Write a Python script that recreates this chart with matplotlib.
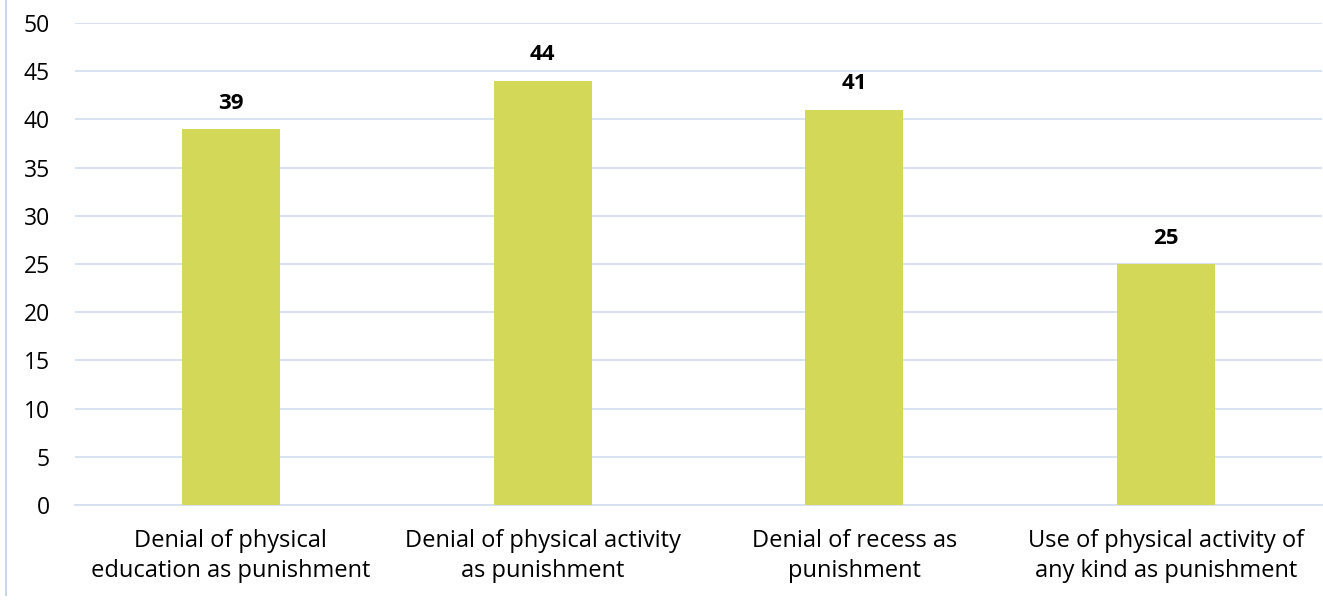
import matplotlib

matplotlib.use("Agg")
import matplotlib.pyplot as plt
from matplotlib.lines import Line2D

categories = [
    "Denial of physical\neducation as punishment",
    "Denial of physical activity\nas punishment",
    "Denial of recess as\npunishment",
    "Use of physical activity of\nany kind as punishment",
]
values = [39, 44, 41, 25]
yticks = [0, 5, 10, 15, 20, 25, 30, 35, 40, 45, 50]

BAR = "#d4d858"
GRID = "#d5dff0"

plt.rcParams["font.family"] = ["Open Sans", "DejaVu Sans"]

fig = plt.figure(figsize=(13.23, 6.02), dpi=100)
ax = fig.add_axes([75 / 1323, 1 - 505 / 602, 1247 / 1323, 482 / 602])

x = range(len(categories))
ax.bar(x, values, width=0.315, color=BAR, zorder=3)
for xi, v in zip(x, values):
    ax.text(xi, v + 1.6, f"{v}", ha="center", va="bottom", fontsize=16,
            fontweight="bold", color="#000000")

ax.set_xlim(-0.5, len(categories) - 0.5)
ax.set_ylim(0, 50)
ax.set_yticks(yticks)
ax.set_xticks(list(x))
ax.set_xticklabels(categories, fontsize=17, color="#000000", linespacing=1.38)
ax.tick_params(axis="y", labelsize=16.5, length=0, pad=18, colors="#000000")
ax.tick_params(axis="x", length=0, pad=17)
ax.yaxis.grid(True, color=GRID, linewidth=1.3, zorder=0)
ax.set_axisbelow(True)
for side in ["top", "right", "left"]:
    ax.spines[side].set_visible(False)
ax.spines["bottom"].set_color(GRID)
ax.spines["bottom"].set_linewidth(1.3)

# thin frame line along the left edge
fig.add_artist(Line2D([6 / 1323, 6 / 1323], [1 - 595 / 602, 1.0],
                      transform=fig.transFigure, color="#c9d7ee", linewidth=1.5))

fig.savefig("out.png", dpi=100)
